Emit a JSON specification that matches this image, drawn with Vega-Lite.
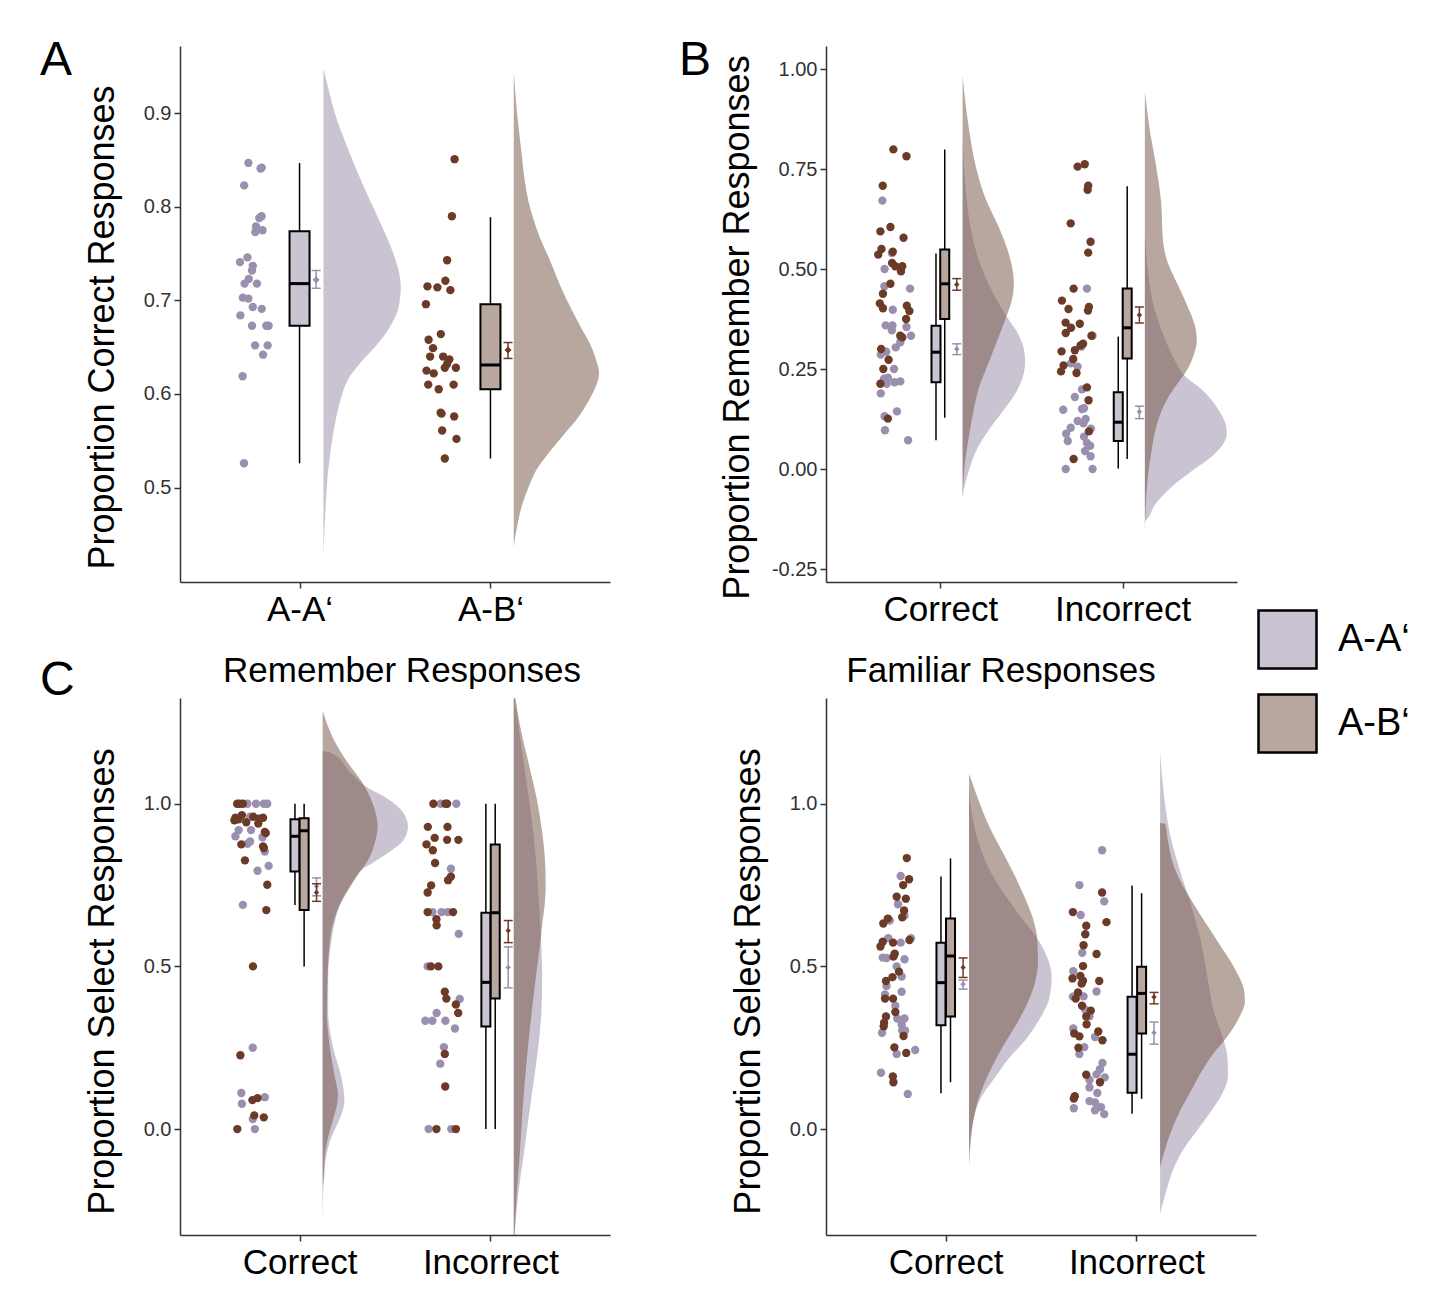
{
  "$schema": "https://vega.github.io/schema/vega-lite/v6.json",
  "background": "white",
  "padding": {"left": 40, "top": 37, "right": 0, "bottom": 0},
  "title": {"text": "C", "anchor": "start", "frame": "group", "fontSize": 48, "dx": -140, "dy": 668, "offset": 0},
  "columns": 2,
  "spacing": {"row": 116, "column": 216},
  "bounds": "flush",
  "datasets": {
    "A_pts": [
      {"g":"A-A‘","x":0.732,"v":0.847},{"g":"A-A‘","x":0.796,"v":0.841},{"g":"A-A‘","x":0.802,"v":0.842},{"g":"A-A‘","x":0.710,"v":0.823},
      {"g":"A-A‘","x":0.801,"v":0.790},{"g":"A-A‘","x":0.789,"v":0.788},{"g":"A-A‘","x":0.772,"v":0.779},{"g":"A-A‘","x":0.806,"v":0.775},
      {"g":"A-A‘","x":0.768,"v":0.773},{"g":"A-A‘","x":0.727,"v":0.746},{"g":"A-A‘","x":0.688,"v":0.741},{"g":"A-A‘","x":0.755,"v":0.737},
      {"g":"A-A‘","x":0.751,"v":0.732},{"g":"A-A‘","x":0.734,"v":0.723},{"g":"A-A‘","x":0.712,"v":0.718},{"g":"A-A‘","x":0.777,"v":0.718},
      {"g":"A-A‘","x":0.703,"v":0.703},{"g":"A-A‘","x":0.732,"v":0.702},{"g":"A-A‘","x":0.755,"v":0.693},{"g":"A-A‘","x":0.802,"v":0.691},
      {"g":"A-A‘","x":0.690,"v":0.684},{"g":"A-A‘","x":0.751,"v":0.673},{"g":"A-A‘","x":0.826,"v":0.673},{"g":"A-A‘","x":0.838,"v":0.673},
      {"g":"A-A‘","x":0.767,"v":0.652},{"g":"A-A‘","x":0.833,"v":0.652},{"g":"A-A‘","x":0.809,"v":0.642},{"g":"A-A‘","x":0.702,"v":0.619},
      {"g":"A-A‘","x":0.709,"v":0.526},
      {"g":"A-B‘","x":1.812,"v":0.851},{"g":"A-B‘","x":1.798,"v":0.790},{"g":"A-B‘","x":1.773,"v":0.743},{"g":"A-B‘","x":1.670,"v":0.715},
      {"g":"A-B‘","x":1.722,"v":0.714},{"g":"A-B‘","x":1.764,"v":0.721},{"g":"A-B‘","x":1.790,"v":0.711},{"g":"A-B‘","x":1.662,"v":0.696},
      {"g":"A-B‘","x":1.740,"v":0.664},{"g":"A-B‘","x":1.676,"v":0.658},{"g":"A-B‘","x":1.699,"v":0.649},{"g":"A-B‘","x":1.684,"v":0.640},
      {"g":"A-B‘","x":1.752,"v":0.640},{"g":"A-B‘","x":1.785,"v":0.637},{"g":"A-B‘","x":1.773,"v":0.632},{"g":"A-B‘","x":1.819,"v":0.628},
      {"g":"A-B‘","x":1.761,"v":0.628},{"g":"A-B‘","x":1.665,"v":0.625},{"g":"A-B‘","x":1.703,"v":0.622},{"g":"A-B‘","x":1.674,"v":0.610},
      {"g":"A-B‘","x":1.729,"v":0.605},{"g":"A-B‘","x":1.807,"v":0.610},{"g":"A-B‘","x":1.739,"v":0.580},{"g":"A-B‘","x":1.744,"v":0.579},
      {"g":"A-B‘","x":1.810,"v":0.576},{"g":"A-B‘","x":1.747,"v":0.561},{"g":"A-B‘","x":1.822,"v":0.552},{"g":"A-B‘","x":1.761,"v":0.531}
    ],
    "A_box": [
      {"g":"A-A‘","x":1.0,"lo":0.526,"q1":0.673,"med":0.718,"q3":0.774,"hi":0.847},
      {"g":"A-B‘","x":2.0,"lo":0.531,"q1":0.605,"med":0.631,"q3":0.696,"hi":0.789}
    ],
    "A_mean": [
      {"g":"A-A‘","x":1.087,"m":0.722,"lo":0.713,"hi":0.732},
      {"g":"A-B‘","x":2.092,"m":0.647,"lo":0.638,"hi":0.655}
    ],
    "A_dens": [
      {"g":"A-A‘","x0":1.125,"v":0.948,"x":1.125},{"g":"A-A‘","x0":1.125,"v":0.920,"x":1.159},{"g":"A-A‘","x0":1.125,"v":0.901,"x":1.184},
      {"g":"A-A‘","x0":1.125,"v":0.863,"x":1.252},{"g":"A-A‘","x0":1.125,"v":0.825,"x":1.329},{"g":"A-A‘","x0":1.125,"v":0.787,"x":1.414},
      {"g":"A-A‘","x0":1.125,"v":0.748,"x":1.495},{"g":"A-A‘","x0":1.125,"v":0.729,"x":1.522},{"g":"A-A‘","x0":1.125,"v":0.714,"x":1.530},
      {"g":"A-A‘","x0":1.125,"v":0.691,"x":1.517},{"g":"A-A‘","x0":1.125,"v":0.672,"x":1.474},{"g":"A-A‘","x0":1.125,"v":0.653,"x":1.406},
      {"g":"A-A‘","x0":1.125,"v":0.634,"x":1.321},{"g":"A-A‘","x0":1.125,"v":0.615,"x":1.252},{"g":"A-A‘","x0":1.125,"v":0.596,"x":1.218},
      {"g":"A-A‘","x0":1.125,"v":0.576,"x":1.193},{"g":"A-A‘","x0":1.125,"v":0.557,"x":1.176},{"g":"A-A‘","x0":1.125,"v":0.519,"x":1.150},
      {"g":"A-A‘","x0":1.125,"v":0.481,"x":1.137},{"g":"A-A‘","x0":1.125,"v":0.426,"x":1.125},
      {"g":"A-B‘","x0":2.122,"v":0.944,"x":2.122},{"g":"A-B‘","x0":2.122,"v":0.901,"x":2.139},{"g":"A-B‘","x0":2.122,"v":0.863,"x":2.160},
      {"g":"A-B‘","x0":2.122,"v":0.825,"x":2.182},{"g":"A-B‘","x0":2.122,"v":0.806,"x":2.199},{"g":"A-B‘","x0":2.122,"v":0.787,"x":2.225},
      {"g":"A-B‘","x0":2.122,"v":0.767,"x":2.259},{"g":"A-B‘","x0":2.122,"v":0.748,"x":2.301},{"g":"A-B‘","x0":2.122,"v":0.710,"x":2.378},
      {"g":"A-B‘","x0":2.122,"v":0.672,"x":2.472},{"g":"A-B‘","x0":2.122,"v":0.653,"x":2.523},{"g":"A-B‘","x0":2.122,"v":0.634,"x":2.557},
      {"g":"A-B‘","x0":2.122,"v":0.622,"x":2.569},{"g":"A-B‘","x0":2.122,"v":0.611,"x":2.557},{"g":"A-B‘","x0":2.122,"v":0.596,"x":2.523},
      {"g":"A-B‘","x0":2.122,"v":0.576,"x":2.463},{"g":"A-B‘","x0":2.122,"v":0.557,"x":2.386},{"g":"A-B‘","x0":2.122,"v":0.538,"x":2.309},
      {"g":"A-B‘","x0":2.122,"v":0.519,"x":2.241},{"g":"A-B‘","x0":2.122,"v":0.500,"x":2.199},{"g":"A-B‘","x0":2.122,"v":0.481,"x":2.165},
      {"g":"A-B‘","x0":2.122,"v":0.462,"x":2.143},{"g":"A-B‘","x0":2.122,"v":0.437,"x":2.122}
    ],
    "B_pts": [
      {"g":"A-B‘","x":0.742,"v":0.799},{"g":"A-B‘","x":0.814,"v":0.782},{"g":"A-B‘","x":0.684,"v":0.708},{"g":"A-B‘","x":0.726,"v":0.605},
      {"g":"A-B‘","x":0.671,"v":0.594},{"g":"A-B‘","x":0.798,"v":0.578},{"g":"A-B‘","x":0.677,"v":0.550},{"g":"A-B‘","x":0.659,"v":0.536},
      {"g":"A-B‘","x":0.739,"v":0.543},{"g":"A-B‘","x":0.735,"v":0.515},{"g":"A-B‘","x":0.753,"v":0.507},{"g":"A-B‘","x":0.791,"v":0.507},
      {"g":"A-B‘","x":0.784,"v":0.494},{"g":"A-B‘","x":0.726,"v":0.463},{"g":"A-B‘","x":0.685,"v":0.438},{"g":"A-B‘","x":0.668,"v":0.414},
      {"g":"A-B‘","x":0.685,"v":0.402},{"g":"A-B‘","x":0.816,"v":0.408},{"g":"A-B‘","x":0.830,"v":0.395},{"g":"A-B‘","x":0.812,"v":0.375},
      {"g":"A-B‘","x":0.780,"v":0.333},{"g":"A-B‘","x":0.791,"v":0.329},{"g":"A-B‘","x":0.675,"v":0.300},{"g":"A-B‘","x":0.716,"v":0.273},
      {"g":"A-B‘","x":0.687,"v":0.250},{"g":"A-B‘","x":0.671,"v":0.213},{"g":"A-B‘","x":0.712,"v":0.126},
      {"g":"A-A‘","x":0.682,"v":0.671},{"g":"A-A‘","x":0.734,"v":0.540},{"g":"A-A‘","x":0.694,"v":0.500},{"g":"A-A‘","x":0.693,"v":0.457},
      {"g":"A-A‘","x":0.834,"v":0.451},{"g":"A-A‘","x":0.739,"v":0.398},{"g":"A-A‘","x":0.700,"v":0.359},{"g":"A-A‘","x":0.737,"v":0.359},
      {"g":"A-A‘","x":0.734,"v":0.347},{"g":"A-A‘","x":0.814,"v":0.355},{"g":"A-A‘","x":0.839,"v":0.333},{"g":"A-A‘","x":0.780,"v":0.317},
      {"g":"A-A‘","x":0.755,"v":0.304},{"g":"A-A‘","x":0.703,"v":0.293},{"g":"A-A‘","x":0.673,"v":0.286},{"g":"A-A‘","x":0.746,"v":0.250},
      {"g":"A-A‘","x":0.691,"v":0.226},{"g":"A-A‘","x":0.712,"v":0.228},{"g":"A-A‘","x":0.748,"v":0.217},{"g":"A-A‘","x":0.780,"v":0.219},
      {"g":"A-A‘","x":0.705,"v":0.213},{"g":"A-A‘","x":0.673,"v":0.189},{"g":"A-A‘","x":0.762,"v":0.144},{"g":"A-A‘","x":0.694,"v":0.132},
      {"g":"A-A‘","x":0.696,"v":0.097},{"g":"A-A‘","x":0.823,"v":0.072},
      {"g":"A-B‘","x":1.753,"v":0.756},{"g":"A-B‘","x":1.792,"v":0.762},{"g":"A-B‘","x":1.811,"v":0.708},{"g":"A-B‘","x":1.808,"v":0.698},
      {"g":"A-B‘","x":1.715,"v":0.614},{"g":"A-B‘","x":1.824,"v":0.568},{"g":"A-B‘","x":1.811,"v":0.541},{"g":"A-B‘","x":1.731,"v":0.451},
      {"g":"A-B‘","x":1.667,"v":0.421},{"g":"A-B‘","x":1.703,"v":0.400},{"g":"A-B‘","x":1.815,"v":0.405},{"g":"A-B‘","x":1.810,"v":0.396},
      {"g":"A-B‘","x":1.687,"v":0.366},{"g":"A-B‘","x":1.717,"v":0.353},{"g":"A-B‘","x":1.765,"v":0.363},{"g":"A-B‘","x":1.688,"v":0.340},
      {"g":"A-B‘","x":1.829,"v":0.333},{"g":"A-B‘","x":1.783,"v":0.313},{"g":"A-B‘","x":1.769,"v":0.309},{"g":"A-B‘","x":1.738,"v":0.297},
      {"g":"A-B‘","x":1.665,"v":0.294},{"g":"A-B‘","x":1.729,"v":0.275},{"g":"A-B‘","x":1.676,"v":0.259},{"g":"A-B‘","x":1.662,"v":0.244},
      {"g":"A-B‘","x":1.747,"v":0.240},{"g":"A-B‘","x":1.804,"v":0.204},{"g":"A-B‘","x":1.813,"v":0.172},{"g":"A-B‘","x":1.815,"v":0.094},
      {"g":"A-B‘","x":1.731,"v":0.025},
      {"g":"A-A‘","x":1.804,"v":0.451},{"g":"A-A‘","x":1.835,"v":0.333},{"g":"A-A‘","x":1.774,"v":0.306},{"g":"A-A‘","x":1.717,"v":0.264},
      {"g":"A-A‘","x":1.753,"v":0.256},{"g":"A-A‘","x":1.777,"v":0.199},{"g":"A-A‘","x":1.738,"v":0.180},{"g":"A-A‘","x":1.788,"v":0.152},
      {"g":"A-A‘","x":1.674,"v":0.148},{"g":"A-A‘","x":1.777,"v":0.150},{"g":"A-A‘","x":1.797,"v":0.125},{"g":"A-A‘","x":1.753,"v":0.120},
      {"g":"A-A‘","x":1.715,"v":0.103},{"g":"A-A‘","x":1.785,"v":0.114},{"g":"A-A‘","x":1.826,"v":0.101},{"g":"A-A‘","x":1.690,"v":0.088},
      {"g":"A-A‘","x":1.699,"v":0.070},{"g":"A-A‘","x":1.788,"v":0.081},{"g":"A-A‘","x":1.804,"v":0.065},{"g":"A-A‘","x":1.822,"v":0.058},
      {"g":"A-A‘","x":1.794,"v":0.045},{"g":"A-A‘","x":1.824,"v":0.032},{"g":"A-A‘","x":1.688,"v":0.000},{"g":"A-A‘","x":1.835,"v":0.000}
    ],
    "B_box": [
      {"g":"A-A‘","x":0.976,"lo":0.072,"q1":0.217,"med":0.292,"q3":0.358,"hi":0.539},
      {"g":"A-B‘","x":1.024,"lo":0.128,"q1":0.375,"med":0.463,"q3":0.549,"hi":0.799},
      {"g":"A-A‘","x":1.976,"lo":0.001,"q1":0.070,"med":0.117,"q3":0.192,"hi":0.331},
      {"g":"A-B‘","x":2.025,"lo":0.025,"q1":0.276,"med":0.353,"q3":0.451,"hi":0.707}
    ],
    "B_mean": [
      {"g":"A-A‘","x":1.090,"m":0.300,"lo":0.286,"hi":0.313},
      {"g":"A-B‘","x":1.090,"m":0.461,"lo":0.447,"hi":0.476},
      {"g":"A-A‘","x":2.092,"m":0.143,"lo":0.126,"hi":0.157},
      {"g":"A-B‘","x":2.092,"m":0.385,"lo":0.365,"hi":0.405}
    ],
    "B_dens": [
      {"g":"A-B‘","c":1,"x0":1.122,"v":0.981,"x":1.122},{"g":"A-B‘","c":1,"x0":1.122,"v":0.847,"x":1.158},{"g":"A-B‘","c":1,"x0":1.122,"v":0.757,"x":1.194},
      {"g":"A-B‘","c":1,"x0":1.122,"v":0.677,"x":1.247},{"g":"A-B‘","c":1,"x0":1.122,"v":0.606,"x":1.319},{"g":"A-B‘","c":1,"x0":1.122,"v":0.543,"x":1.372},
      {"g":"A-B‘","c":1,"x0":1.122,"v":0.490,"x":1.399},{"g":"A-B‘","c":1,"x0":1.122,"v":0.463,"x":1.403},{"g":"A-B‘","c":1,"x0":1.122,"v":0.418,"x":1.390},
      {"g":"A-B‘","c":1,"x0":1.122,"v":0.382,"x":1.363},{"g":"A-B‘","c":1,"x0":1.122,"v":0.329,"x":1.319},{"g":"A-B‘","c":1,"x0":1.122,"v":0.266,"x":1.265},
      {"g":"A-B‘","c":1,"x0":1.122,"v":0.204,"x":1.212},{"g":"A-B‘","c":1,"x0":1.122,"v":0.132,"x":1.176},{"g":"A-B‘","c":1,"x0":1.122,"v":0.061,"x":1.149},
      {"g":"A-B‘","c":1,"x0":1.122,"v":-0.002,"x":1.131},{"g":"A-B‘","c":1,"x0":1.122,"v":-0.073,"x":1.122},
      {"g":"A-A‘","c":1,"x0":1.122,"v":0.820,"x":1.122},{"g":"A-A‘","c":1,"x0":1.122,"v":0.713,"x":1.137},{"g":"A-A‘","c":1,"x0":1.122,"v":0.624,"x":1.158},
      {"g":"A-A‘","c":1,"x0":1.122,"v":0.534,"x":1.203},{"g":"A-A‘","c":1,"x0":1.122,"v":0.445,"x":1.283},{"g":"A-A‘","c":1,"x0":1.122,"v":0.382,"x":1.363},
      {"g":"A-A‘","c":1,"x0":1.122,"v":0.338,"x":1.426},{"g":"A-A‘","c":1,"x0":1.122,"v":0.293,"x":1.461},{"g":"A-A‘","c":1,"x0":1.122,"v":0.266,"x":1.465},
      {"g":"A-A‘","c":1,"x0":1.122,"v":0.231,"x":1.453},{"g":"A-A‘","c":1,"x0":1.122,"v":0.186,"x":1.408},{"g":"A-A‘","c":1,"x0":1.122,"v":0.141,"x":1.337},
      {"g":"A-A‘","c":1,"x0":1.122,"v":0.097,"x":1.265},{"g":"A-A‘","c":1,"x0":1.122,"v":0.052,"x":1.203},{"g":"A-A‘","c":1,"x0":1.122,"v":-0.002,"x":1.158},
      {"g":"A-A‘","c":1,"x0":1.122,"v":-0.046,"x":1.131},{"g":"A-A‘","c":1,"x0":1.122,"v":-0.073,"x":1.122},
      {"g":"A-B‘","c":2,"x0":2.122,"v":0.942,"x":2.122},{"g":"A-B‘","c":2,"x0":2.122,"v":0.847,"x":2.149},{"g":"A-B‘","c":2,"x0":2.122,"v":0.757,"x":2.184},
      {"g":"A-B‘","c":2,"x0":2.122,"v":0.668,"x":2.211},{"g":"A-B‘","c":2,"x0":2.122,"v":0.579,"x":2.220},{"g":"A-B‘","c":2,"x0":2.122,"v":0.516,"x":2.247},
      {"g":"A-B‘","c":2,"x0":2.122,"v":0.463,"x":2.300},{"g":"A-B‘","c":2,"x0":2.122,"v":0.409,"x":2.354},{"g":"A-B‘","c":2,"x0":2.122,"v":0.356,"x":2.398},
      {"g":"A-B‘","c":2,"x0":2.122,"v":0.320,"x":2.407},{"g":"A-B‘","c":2,"x0":2.122,"v":0.284,"x":2.389},{"g":"A-B‘","c":2,"x0":2.122,"v":0.248,"x":2.354},
      {"g":"A-B‘","c":2,"x0":2.122,"v":0.213,"x":2.300},{"g":"A-B‘","c":2,"x0":2.122,"v":0.177,"x":2.247},{"g":"A-B‘","c":2,"x0":2.122,"v":0.132,"x":2.202},
      {"g":"A-B‘","c":2,"x0":2.122,"v":0.088,"x":2.175},{"g":"A-B‘","c":2,"x0":2.122,"v":0.043,"x":2.158},{"g":"A-B‘","c":2,"x0":2.122,"v":-0.002,"x":2.143},
      {"g":"A-B‘","c":2,"x0":2.122,"v":-0.091,"x":2.127},{"g":"A-B‘","c":2,"x0":2.122,"v":-0.158,"x":2.122},
      {"g":"A-A‘","c":2,"x0":2.122,"v":0.583,"x":2.122},{"g":"A-A‘","c":2,"x0":2.122,"v":0.490,"x":2.140},{"g":"A-A‘","c":2,"x0":2.122,"v":0.400,"x":2.175},
      {"g":"A-A‘","c":2,"x0":2.122,"v":0.329,"x":2.229},{"g":"A-A‘","c":2,"x0":2.122,"v":0.275,"x":2.282},{"g":"A-A‘","c":2,"x0":2.122,"v":0.235,"x":2.336},
      {"g":"A-A‘","c":2,"x0":2.122,"v":0.195,"x":2.443},{"g":"A-A‘","c":2,"x0":2.122,"v":0.150,"x":2.523},{"g":"A-A‘","c":2,"x0":2.122,"v":0.106,"x":2.568},
      {"g":"A-A‘","c":2,"x0":2.122,"v":0.088,"x":2.571},{"g":"A-A‘","c":2,"x0":2.122,"v":0.061,"x":2.550},{"g":"A-A‘","c":2,"x0":2.122,"v":0.034,"x":2.496},
      {"g":"A-A‘","c":2,"x0":2.122,"v":-0.002,"x":2.389},{"g":"A-A‘","c":2,"x0":2.122,"v":-0.046,"x":2.265},{"g":"A-A‘","c":2,"x0":2.122,"v":-0.091,"x":2.175},
      {"g":"A-A‘","c":2,"x0":2.122,"v":-0.127,"x":2.131},{"g":"A-A‘","c":2,"x0":2.122,"v":-0.131,"x":2.122}
    ],
    "CL_pts": [
      {"g":"A-B‘","x":0.673,"v":1.000},{"g":"A-B‘","x":0.703,"v":1.000},{"g":"A-B‘","x":0.686,"v":1.000},{"g":"A-B‘","x":0.664,"v":0.957},
      {"g":"A-B‘","x":0.659,"v":0.949},{"g":"A-B‘","x":0.681,"v":0.952},{"g":"A-B‘","x":0.698,"v":0.965},{"g":"A-B‘","x":0.721,"v":0.943},
      {"g":"A-B‘","x":0.758,"v":0.960},{"g":"A-B‘","x":0.784,"v":0.939},{"g":"A-B‘","x":0.809,"v":0.957},{"g":"A-B‘","x":0.789,"v":0.954},
      {"g":"A-B‘","x":0.818,"v":0.913},{"g":"A-B‘","x":0.823,"v":0.910},{"g":"A-B‘","x":0.695,"v":0.875},{"g":"A-B‘","x":0.809,"v":0.869},
      {"g":"A-B‘","x":0.813,"v":0.864},{"g":"A-B‘","x":0.714,"v":0.826},{"g":"A-B‘","x":0.831,"v":0.751},{"g":"A-B‘","x":0.826,"v":0.673},
      {"g":"A-B‘","x":0.756,"v":0.500},{"g":"A-B‘","x":0.690,"v":0.227},{"g":"A-B‘","x":0.753,"v":0.089},{"g":"A-B‘","x":0.780,"v":0.095},
      {"g":"A-B‘","x":0.763,"v":0.042},{"g":"A-B‘","x":0.813,"v":0.036},{"g":"A-B‘","x":0.674,"v":0.000},
      {"g":"A-A‘","x":0.727,"v":1.000},{"g":"A-A‘","x":0.772,"v":1.000},{"g":"A-A‘","x":0.813,"v":1.000},{"g":"A-A‘","x":0.831,"v":1.000},
      {"g":"A-A‘","x":0.741,"v":0.960},{"g":"A-A‘","x":0.681,"v":0.919},{"g":"A-A‘","x":0.664,"v":0.900},{"g":"A-A‘","x":0.746,"v":0.919},
      {"g":"A-A‘","x":0.727,"v":0.877},{"g":"A-A‘","x":0.741,"v":0.884},{"g":"A-A‘","x":0.806,"v":0.897},{"g":"A-A‘","x":0.818,"v":0.853},
      {"g":"A-A‘","x":0.780,"v":0.794},{"g":"A-A‘","x":0.838,"v":0.809},{"g":"A-A‘","x":0.703,"v":0.689},{"g":"A-A‘","x":0.755,"v":0.250},
      {"g":"A-A‘","x":0.695,"v":0.111},{"g":"A-A‘","x":0.698,"v":0.078},{"g":"A-A‘","x":0.818,"v":0.098},{"g":"A-A‘","x":0.755,"v":0.031},
      {"g":"A-A‘","x":0.766,"v":0.000},
      {"g":"A-B‘","x":1.701,"v":1.000},{"g":"A-B‘","x":1.764,"v":1.000},{"g":"A-B‘","x":1.773,"v":1.000},{"g":"A-B‘","x":1.672,"v":0.929},
      {"g":"A-B‘","x":1.775,"v":0.929},{"g":"A-B‘","x":1.708,"v":0.895},{"g":"A-B‘","x":1.773,"v":0.889},{"g":"A-B‘","x":1.832,"v":0.889},
      {"g":"A-B‘","x":1.665,"v":0.875},{"g":"A-B‘","x":1.698,"v":0.857},{"g":"A-B‘","x":1.710,"v":0.818},{"g":"A-B‘","x":1.778,"v":0.765},
      {"g":"A-B‘","x":1.793,"v":0.776},{"g":"A-B‘","x":1.689,"v":0.749},{"g":"A-B‘","x":1.671,"v":0.727},{"g":"A-B‘","x":1.671,"v":0.667},
      {"g":"A-B‘","x":1.717,"v":0.645},{"g":"A-B‘","x":1.718,"v":0.626},{"g":"A-B‘","x":1.804,"v":0.667},{"g":"A-B‘","x":1.688,"v":0.500},
      {"g":"A-B‘","x":1.727,"v":0.500},{"g":"A-B‘","x":1.761,"v":0.422},{"g":"A-B‘","x":1.769,"v":0.401},{"g":"A-B‘","x":1.819,"v":0.383},
      {"g":"A-B‘","x":1.831,"v":0.357},{"g":"A-B‘","x":1.761,"v":0.231},{"g":"A-B‘","x":1.763,"v":0.131},{"g":"A-B‘","x":1.717,"v":0.000},
      {"g":"A-B‘","x":1.819,"v":0.000},
      {"g":"A-A‘","x":1.739,"v":1.000},{"g":"A-A‘","x":1.821,"v":1.000},{"g":"A-A‘","x":1.793,"v":0.800},{"g":"A-A‘","x":1.696,"v":0.667},
      {"g":"A-A‘","x":1.744,"v":0.667},{"g":"A-A‘","x":1.776,"v":0.667},{"g":"A-A‘","x":1.834,"v":0.600},{"g":"A-A‘","x":1.671,"v":0.500},
      {"g":"A-A‘","x":1.839,"v":0.400},{"g":"A-A‘","x":1.718,"v":0.357},{"g":"A-A‘","x":1.659,"v":0.333},{"g":"A-A‘","x":1.696,"v":0.333},
      {"g":"A-A‘","x":1.764,"v":0.333},{"g":"A-A‘","x":1.814,"v":0.309},{"g":"A-A‘","x":1.756,"v":0.252},{"g":"A-A‘","x":1.737,"v":0.201},
      {"g":"A-A‘","x":1.676,"v":0.000},{"g":"A-A‘","x":1.795,"v":0.000}
    ],
    "CL_box": [
      {"g":"A-A‘","x":0.976,"lo":0.689,"q1":0.792,"med":0.900,"q3":0.952,"hi":1.0},
      {"g":"A-B‘","x":1.024,"lo":0.500,"q1":0.673,"med":0.917,"q3":0.955,"hi":1.0},
      {"g":"A-A‘","x":1.976,"lo":0.0,"q1":0.315,"med":0.451,"q3":0.665,"hi":1.0},
      {"g":"A-B‘","x":2.025,"lo":0.0,"q1":0.401,"med":0.665,"q3":0.875,"hi":1.0}
    ],
    "CL_mean": [
      {"g":"A-A‘","x":1.089,"m":0.746,"lo":0.717,"hi":0.772},
      {"g":"A-B‘","x":1.089,"m":0.727,"lo":0.700,"hi":0.754},
      {"g":"A-A‘","x":2.093,"m":0.497,"lo":0.434,"hi":0.560},
      {"g":"A-B‘","x":2.093,"m":0.610,"lo":0.573,"hi":0.641}
    ],
    "CL_dens": [
      {"g":"A-B‘","x0":1.121,"v":1.286,"x":1.121},{"g":"A-B‘","x0":1.121,"v":1.237,"x":1.150},{"g":"A-B‘","x0":1.121,"v":1.182,"x":1.193},
      {"g":"A-B‘","x0":1.121,"v":1.127,"x":1.252},{"g":"A-B‘","x0":1.121,"v":1.072,"x":1.321},{"g":"A-B‘","x0":1.121,"v":1.017,"x":1.372},
      {"g":"A-B‘","x0":1.121,"v":0.963,"x":1.402},{"g":"A-B‘","x0":1.121,"v":0.930,"x":1.409},{"g":"A-B‘","x0":1.121,"v":0.886,"x":1.397},
      {"g":"A-B‘","x0":1.121,"v":0.831,"x":1.363},{"g":"A-B‘","x0":1.121,"v":0.787,"x":1.312},{"g":"A-B‘","x0":1.121,"v":0.732,"x":1.252},
      {"g":"A-B‘","x0":1.121,"v":0.688,"x":1.210},{"g":"A-B‘","x0":1.121,"v":0.634,"x":1.176},{"g":"A-B‘","x0":1.121,"v":0.579,"x":1.159},
      {"g":"A-B‘","x0":1.121,"v":0.469,"x":1.147},{"g":"A-B‘","x0":1.121,"v":0.360,"x":1.143},{"g":"A-B‘","x0":1.121,"v":0.250,"x":1.159},
      {"g":"A-B‘","x0":1.121,"v":0.162,"x":1.184},{"g":"A-B‘","x0":1.121,"v":0.107,"x":1.201},{"g":"A-B‘","x0":1.121,"v":0.075,"x":1.196},
      {"g":"A-B‘","x0":1.121,"v":0.031,"x":1.176},{"g":"A-B‘","x0":1.121,"v":-0.024,"x":1.150},{"g":"A-B‘","x0":1.121,"v":-0.079,"x":1.133},
      {"g":"A-B‘","x0":1.121,"v":-0.188,"x":1.124},{"g":"A-B‘","x0":1.121,"v":-0.287,"x":1.121},
      {"g":"A-A‘","x0":1.121,"v":1.162,"x":1.121},{"g":"A-A‘","x0":1.121,"v":1.158,"x":1.159},{"g":"A-A‘","x0":1.121,"v":1.094,"x":1.270},
      {"g":"A-A‘","x0":1.121,"v":1.050,"x":1.355},{"g":"A-A‘","x0":1.121,"v":1.017,"x":1.457},{"g":"A-A‘","x0":1.121,"v":0.974,"x":1.542},
      {"g":"A-A‘","x0":1.121,"v":0.930,"x":1.568},{"g":"A-A‘","x0":1.121,"v":0.886,"x":1.542},{"g":"A-A‘","x0":1.121,"v":0.853,"x":1.474},
      {"g":"A-A‘","x0":1.121,"v":0.820,"x":1.389},{"g":"A-A‘","x0":1.121,"v":0.798,"x":1.329},{"g":"A-A‘","x0":1.121,"v":0.754,"x":1.270},
      {"g":"A-A‘","x0":1.121,"v":0.688,"x":1.210},{"g":"A-A‘","x0":1.121,"v":0.634,"x":1.184},{"g":"A-A‘","x0":1.121,"v":0.579,"x":1.167},
      {"g":"A-A‘","x0":1.121,"v":0.469,"x":1.150},{"g":"A-A‘","x0":1.121,"v":0.360,"x":1.150},{"g":"A-A‘","x0":1.121,"v":0.250,"x":1.176},
      {"g":"A-A‘","x0":1.121,"v":0.162,"x":1.218},{"g":"A-A‘","x0":1.121,"v":0.086,"x":1.235},{"g":"A-A‘","x0":1.121,"v":0.031,"x":1.210},
      {"g":"A-A‘","x0":1.121,"v":-0.024,"x":1.167},{"g":"A-A‘","x0":1.121,"v":-0.079,"x":1.141},{"g":"A-A‘","x0":1.121,"v":-0.167,"x":1.124},
      {"g":"A-A‘","x0":1.121,"v":-0.172,"x":1.121},
      {"g":"A-B‘","x0":2.122,"v":1.324,"x":2.131},{"g":"A-B‘","x0":2.122,"v":1.237,"x":2.156},{"g":"A-B‘","x0":2.122,"v":1.127,"x":2.199},
      {"g":"A-B‘","x0":2.122,"v":1.017,"x":2.242},{"g":"A-B‘","x0":2.122,"v":0.908,"x":2.272},{"g":"A-B‘","x0":2.122,"v":0.798,"x":2.288},
      {"g":"A-B‘","x0":2.122,"v":0.743,"x":2.289},{"g":"A-B‘","x0":2.122,"v":0.689,"x":2.284},{"g":"A-B‘","x0":2.122,"v":0.634,"x":2.272},
      {"g":"A-B‘","x0":2.122,"v":0.579,"x":2.262},{"g":"A-B‘","x0":2.122,"v":0.524,"x":2.250},{"g":"A-B‘","x0":2.122,"v":0.469,"x":2.238},
      {"g":"A-B‘","x0":2.122,"v":0.360,"x":2.216},{"g":"A-B‘","x0":2.122,"v":0.250,"x":2.196},{"g":"A-B‘","x0":2.122,"v":0.140,"x":2.179},
      {"g":"A-B‘","x0":2.122,"v":0.031,"x":2.165},{"g":"A-B‘","x0":2.122,"v":-0.079,"x":2.153},{"g":"A-B‘","x0":2.122,"v":-0.188,"x":2.139},
      {"g":"A-B‘","x0":2.122,"v":-0.326,"x":2.126},
      {"g":"A-A‘","x0":2.122,"v":1.324,"x":2.126},{"g":"A-A‘","x0":2.122,"v":1.127,"x":2.174},{"g":"A-A‘","x0":2.122,"v":0.908,"x":2.225},
      {"g":"A-A‘","x0":2.122,"v":0.689,"x":2.255},{"g":"A-A‘","x0":2.122,"v":0.557,"x":2.267},{"g":"A-A‘","x0":2.122,"v":0.469,"x":2.271},
      {"g":"A-A‘","x0":2.122,"v":0.360,"x":2.267},{"g":"A-A‘","x0":2.122,"v":0.250,"x":2.250},{"g":"A-A‘","x0":2.122,"v":0.140,"x":2.225},
      {"g":"A-A‘","x0":2.122,"v":0.031,"x":2.199},{"g":"A-A‘","x0":2.122,"v":-0.079,"x":2.174},{"g":"A-A‘","x0":2.122,"v":-0.188,"x":2.148},
      {"g":"A-A‘","x0":2.122,"v":-0.326,"x":2.126}
    ],
    "CR_pts": [
      {"g":"A-B‘","x":0.797,"v":0.833},{"g":"A-B‘","x":0.809,"v":0.768},{"g":"A-B‘","x":0.778,"v":0.750},{"g":"A-B‘","x":0.744,"v":0.714},
      {"g":"A-B‘","x":0.792,"v":0.708},{"g":"A-B‘","x":0.783,"v":0.672},{"g":"A-B‘","x":0.773,"v":0.651},{"g":"A-B‘","x":0.698,"v":0.647},
      {"g":"A-B‘","x":0.674,"v":0.632},{"g":"A-B‘","x":0.811,"v":0.581},{"g":"A-B‘","x":0.671,"v":0.576},{"g":"A-B‘","x":0.659,"v":0.561},
      {"g":"A-B‘","x":0.725,"v":0.573},{"g":"A-B‘","x":0.734,"v":0.539},{"g":"A-B‘","x":0.727,"v":0.530},{"g":"A-B‘","x":0.756,"v":0.484},
      {"g":"A-B‘","x":0.722,"v":0.467},{"g":"A-B‘","x":0.688,"v":0.455},{"g":"A-B‘","x":0.683,"v":0.401},{"g":"A-B‘","x":0.725,"v":0.401},
      {"g":"A-B‘","x":0.737,"v":0.360},{"g":"A-B‘","x":0.688,"v":0.346},{"g":"A-B‘","x":0.678,"v":0.327},{"g":"A-B‘","x":0.676,"v":0.316},
      {"g":"A-B‘","x":0.780,"v":0.286},{"g":"A-B‘","x":0.732,"v":0.251},{"g":"A-B‘","x":0.794,"v":0.234},{"g":"A-B‘","x":0.724,"v":0.162},
      {"g":"A-B‘","x":0.727,"v":0.144},
      {"g":"A-A‘","x":0.765,"v":0.778},{"g":"A-A‘","x":0.751,"v":0.691},{"g":"A-A‘","x":0.785,"v":0.656},{"g":"A-A‘","x":0.708,"v":0.641},
      {"g":"A-A‘","x":0.700,"v":0.587},{"g":"A-A‘","x":0.819,"v":0.587},{"g":"A-A‘","x":0.765,"v":0.573},{"g":"A-A‘","x":0.671,"v":0.527},
      {"g":"A-A‘","x":0.691,"v":0.526},{"g":"A-A‘","x":0.785,"v":0.522},{"g":"A-A‘","x":0.744,"v":0.500},{"g":"A-A‘","x":0.770,"v":0.469},
      {"g":"A-A‘","x":0.691,"v":0.440},{"g":"A-A‘","x":0.770,"v":0.422},{"g":"A-A‘","x":0.683,"v":0.414},{"g":"A-A‘","x":0.737,"v":0.379},
      {"g":"A-A‘","x":0.747,"v":0.340},{"g":"A-A‘","x":0.785,"v":0.340},{"g":"A-A‘","x":0.770,"v":0.321},{"g":"A-A‘","x":0.773,"v":0.303},
      {"g":"A-A‘","x":0.788,"v":0.303},{"g":"A-A‘","x":0.667,"v":0.296},{"g":"A-A‘","x":0.744,"v":0.231},{"g":"A-A‘","x":0.841,"v":0.243},
      {"g":"A-A‘","x":0.662,"v":0.173},{"g":"A-A‘","x":0.802,"v":0.108},
      {"g":"A-A‘","x":1.820,"v":0.857},{"g":"A-A‘","x":1.701,"v":0.750},{"g":"A-A‘","x":1.831,"v":0.700},{"g":"A-A‘","x":1.708,"v":0.658},
      {"g":"A-A‘","x":1.716,"v":0.542},{"g":"A-A‘","x":1.669,"v":0.485},{"g":"A-A‘","x":1.791,"v":0.423},{"g":"A-A‘","x":1.667,"v":0.407},
      {"g":"A-A‘","x":1.723,"v":0.408},{"g":"A-A‘","x":1.732,"v":0.367},{"g":"A-A‘","x":1.754,"v":0.347},{"g":"A-A‘","x":1.669,"v":0.309},
      {"g":"A-A‘","x":1.783,"v":0.283},{"g":"A-A‘","x":1.727,"v":0.252},{"g":"A-A‘","x":1.701,"v":0.231},{"g":"A-A‘","x":1.822,"v":0.203},
      {"g":"A-A‘","x":1.754,"v":0.151},{"g":"A-A‘","x":1.791,"v":0.168},{"g":"A-A‘","x":1.834,"v":0.159},{"g":"A-A‘","x":1.809,"v":0.184},
      {"g":"A-A‘","x":1.754,"v":0.128},{"g":"A-A‘","x":1.795,"v":0.111},{"g":"A-A‘","x":1.754,"v":0.086},{"g":"A-A‘","x":1.783,"v":0.082},
      {"g":"A-A‘","x":1.814,"v":0.067},{"g":"A-A‘","x":1.672,"v":0.064},{"g":"A-A‘","x":1.783,"v":0.058},{"g":"A-A‘","x":1.831,"v":0.046},
      {"g":"A-B‘","x":1.820,"v":0.727},{"g":"A-B‘","x":1.667,"v":0.667},{"g":"A-B‘","x":1.843,"v":0.636},{"g":"A-B‘","x":1.737,"v":0.625},
      {"g":"A-B‘","x":1.732,"v":0.599},{"g":"A-B‘","x":1.723,"v":0.565},{"g":"A-B‘","x":1.791,"v":0.538},{"g":"A-B‘","x":1.720,"v":0.501},
      {"g":"A-B‘","x":1.706,"v":0.471},{"g":"A-B‘","x":1.665,"v":0.463},{"g":"A-B‘","x":1.720,"v":0.456},{"g":"A-B‘","x":1.805,"v":0.455},
      {"g":"A-B‘","x":1.713,"v":0.447},{"g":"A-B‘","x":1.694,"v":0.420},{"g":"A-B‘","x":1.682,"v":0.401},{"g":"A-B‘","x":1.715,"v":0.379},
      {"g":"A-B‘","x":1.761,"v":0.364},{"g":"A-B‘","x":1.737,"v":0.346},{"g":"A-B‘","x":1.739,"v":0.322},{"g":"A-B‘","x":1.674,"v":0.294},
      {"g":"A-B‘","x":1.701,"v":0.285},{"g":"A-B‘","x":1.800,"v":0.300},{"g":"A-B‘","x":1.822,"v":0.273},{"g":"A-B‘","x":1.696,"v":0.250},
      {"g":"A-B‘","x":1.737,"v":0.167},{"g":"A-B‘","x":1.809,"v":0.144},{"g":"A-B‘","x":1.677,"v":0.101},{"g":"A-B‘","x":1.672,"v":0.094}
    ],
    "CR_box": [
      {"g":"A-A‘","x":0.976,"lo":0.110,"q1":0.319,"med":0.450,"q3":0.573,"hi":0.776},
      {"g":"A-B‘","x":1.026,"lo":0.144,"q1":0.346,"med":0.532,"q3":0.647,"hi":0.832},
      {"g":"A-A‘","x":1.977,"lo":0.047,"q1":0.112,"med":0.230,"q3":0.407,"hi":0.749},
      {"g":"A-B‘","x":2.027,"lo":0.093,"q1":0.294,"med":0.417,"q3":0.499,"hi":0.725}
    ],
    "CR_mean": [
      {"g":"A-A‘","x":1.092,"m":0.445,"lo":0.430,"hi":0.458},
      {"g":"A-B‘","x":1.092,"m":0.497,"lo":0.466,"hi":0.526},
      {"g":"A-A‘","x":2.092,"m":0.296,"lo":0.261,"hi":0.329},
      {"g":"A-B‘","x":2.092,"m":0.406,"lo":0.385,"hi":0.420}
    ],
    "CR_dens": [
      {"g":"A-B‘","x0":1.123,"v":1.092,"x":1.123},{"g":"A-B‘","x0":1.123,"v":1.017,"x":1.169},{"g":"A-B‘","x0":1.123,"v":0.930,"x":1.229},
      {"g":"A-B‘","x0":1.123,"v":0.853,"x":1.297},{"g":"A-B‘","x0":1.123,"v":0.776,"x":1.365},{"g":"A-B‘","x0":1.123,"v":0.710,"x":1.416},
      {"g":"A-B‘","x0":1.123,"v":0.645,"x":1.459},{"g":"A-B‘","x0":1.123,"v":0.579,"x":1.481},{"g":"A-B‘","x0":1.123,"v":0.513,"x":1.484},
      {"g":"A-B‘","x0":1.123,"v":0.447,"x":1.467},{"g":"A-B‘","x0":1.123,"v":0.382,"x":1.425},{"g":"A-B‘","x0":1.123,"v":0.316,"x":1.365},
      {"g":"A-B‘","x0":1.123,"v":0.250,"x":1.297},{"g":"A-B‘","x0":1.123,"v":0.195,"x":1.246},{"g":"A-B‘","x0":1.123,"v":0.140,"x":1.203},
      {"g":"A-B‘","x0":1.123,"v":0.086,"x":1.169},{"g":"A-B‘","x0":1.123,"v":0.031,"x":1.147},{"g":"A-B‘","x0":1.123,"v":-0.046,"x":1.131},
      {"g":"A-B‘","x0":1.123,"v":-0.117,"x":1.123},
      {"g":"A-A‘","x0":1.123,"v":1.039,"x":1.123},{"g":"A-A‘","x0":1.123,"v":0.908,"x":1.160},{"g":"A-A‘","x0":1.123,"v":0.798,"x":1.229},
      {"g":"A-A‘","x0":1.123,"v":0.689,"x":1.348},{"g":"A-A‘","x0":1.123,"v":0.623,"x":1.433},{"g":"A-A‘","x0":1.123,"v":0.590,"x":1.476},
      {"g":"A-A‘","x0":1.123,"v":0.535,"x":1.527},{"g":"A-A‘","x0":1.123,"v":0.469,"x":1.556},{"g":"A-A‘","x0":1.123,"v":0.403,"x":1.544},
      {"g":"A-A‘","x0":1.123,"v":0.338,"x":1.493},{"g":"A-A‘","x0":1.123,"v":0.272,"x":1.416},{"g":"A-A‘","x0":1.123,"v":0.217,"x":1.331},
      {"g":"A-A‘","x0":1.123,"v":0.162,"x":1.263},{"g":"A-A‘","x0":1.123,"v":0.086,"x":1.177},{"g":"A-A‘","x0":1.123,"v":0.031,"x":1.147},
      {"g":"A-A‘","x0":1.123,"v":-0.024,"x":1.130},{"g":"A-A‘","x0":1.123,"v":-0.068,"x":1.123},
      {"g":"A-B‘","x0":2.124,"v":0.941,"x":2.124},{"g":"A-B‘","x0":2.124,"v":0.938,"x":2.150},{"g":"A-B‘","x0":2.124,"v":0.886,"x":2.165},
      {"g":"A-B‘","x0":2.124,"v":0.831,"x":2.184},{"g":"A-B‘","x0":2.124,"v":0.776,"x":2.218},{"g":"A-B‘","x0":2.124,"v":0.689,"x":2.303},
      {"g":"A-B‘","x0":2.124,"v":0.579,"x":2.423},{"g":"A-B‘","x0":2.124,"v":0.491,"x":2.517},{"g":"A-B‘","x0":2.124,"v":0.425,"x":2.564},
      {"g":"A-B‘","x0":2.124,"v":0.392,"x":2.568},{"g":"A-B‘","x0":2.124,"v":0.338,"x":2.534},{"g":"A-B‘","x0":2.124,"v":0.283,"x":2.474},
      {"g":"A-B‘","x0":2.124,"v":0.228,"x":2.397},{"g":"A-B‘","x0":2.124,"v":0.173,"x":2.337},{"g":"A-B‘","x0":2.124,"v":0.118,"x":2.286},
      {"g":"A-B‘","x0":2.124,"v":0.064,"x":2.235},{"g":"A-B‘","x0":2.124,"v":0.009,"x":2.192},{"g":"A-B‘","x0":2.124,"v":-0.046,"x":2.158},
      {"g":"A-B‘","x0":2.124,"v":-0.117,"x":2.124},
      {"g":"A-A‘","x0":2.124,"v":1.160,"x":2.124},{"g":"A-A‘","x0":2.124,"v":1.072,"x":2.136},{"g":"A-A‘","x0":2.124,"v":0.985,"x":2.153},
      {"g":"A-A‘","x0":2.124,"v":0.908,"x":2.175},{"g":"A-A‘","x0":2.124,"v":0.798,"x":2.226},{"g":"A-A‘","x0":2.124,"v":0.689,"x":2.286},
      {"g":"A-A‘","x0":2.124,"v":0.579,"x":2.337},{"g":"A-A‘","x0":2.124,"v":0.469,"x":2.371},{"g":"A-A‘","x0":2.124,"v":0.360,"x":2.406},
      {"g":"A-A‘","x0":2.124,"v":0.272,"x":2.457},{"g":"A-A‘","x0":2.124,"v":0.217,"x":2.477},{"g":"A-A‘","x0":2.124,"v":0.162,"x":2.479},
      {"g":"A-A‘","x0":2.124,"v":0.107,"x":2.448},{"g":"A-A‘","x0":2.124,"v":0.053,"x":2.389},{"g":"A-A‘","x0":2.124,"v":-0.002,"x":2.320},
      {"g":"A-A‘","x0":2.124,"v":-0.057,"x":2.252},{"g":"A-A‘","x0":2.124,"v":-0.112,"x":2.201},{"g":"A-A‘","x0":2.124,"v":-0.167,"x":2.167},
      {"g":"A-A‘","x0":2.124,"v":-0.222,"x":2.141},{"g":"A-A‘","x0":2.124,"v":-0.260,"x":2.124}
    ]
  },
  "concat": [
    {
      "width": 430, "height": 536,
      "title": {"text": "A", "anchor": "start", "frame": "group", "fontSize": 48, "dx": -140, "dy": 39, "offset": 0},
      "encoding": {
        "x": {"field": "x", "type": "quantitative", "title": null, "scale": {"domain": [0.4, 2.6], "nice": false, "zero": false}, "axis": {"values": [1, 2], "labelExpr": "datum.value == 1 ? 'A-A‘' : 'A-B‘'"}},
        "y": {"field": "v", "type": "quantitative", "title": "Proportion Correct Responses", "scale": {"domain": [0.399, 0.972], "nice": false, "zero": false}, "axis": {"values": [0.5, 0.6, 0.7, 0.8, 0.9], "format": ".1f", "titleY": 281}}
      },
      "layer": [
        {"data": {"name": "A_dens"}, "transform": [{"filter": "datum.g == 'A-A‘'"}], "mark": {"type": "area", "orient": "horizontal", "interpolate": "monotone", "color": "#958aa5", "opacity": 0.5, "clip": true}, "encoding": {"x2": {"field": "x0"}}},
        {"data": {"name": "A_dens"}, "transform": [{"filter": "datum.g == 'A-B‘'"}], "mark": {"type": "area", "orient": "horizontal", "interpolate": "monotone", "color": "#71503f", "opacity": 0.5, "clip": true}, "encoding": {"x2": {"field": "x0"}}},
        {"data": {"name": "A_box"}, "mark": {"type": "rule", "color": "black", "strokeWidth": 1.5}, "encoding": {"y": {"field": "lo", "type": "quantitative", "title": "Proportion Correct Responses"}, "y2": {"field": "hi"}}},
        {"data": {"name": "A_box"}, "mark": {"type": "bar", "size": 20, "stroke": "black", "strokeWidth": 2}, "encoding": {"y": {"field": "q1", "type": "quantitative", "title": "Proportion Correct Responses"}, "y2": {"field": "q3"}, "fill": {"field": "g", "type": "nominal", "scale": {"domain": ["A-A‘", "A-B‘"], "range": ["#c9c3d2", "#b8a79f"]}, "legend": {"title": null, "orient": "none", "legendX": 1077, "legendY": 563}}}},
        {"data": {"name": "A_box"}, "mark": {"type": "tick", "orient": "horizontal", "size": 20, "thickness": 3, "color": "black", "opacity": 1}, "encoding": {"y": {"field": "med", "type": "quantitative", "title": "Proportion Correct Responses"}}},
        {"data": {"name": "A_mean"}, "transform": [{"filter": "datum.g == 'A-A‘'"}], "mark": {"type": "rule", "strokeWidth": 1.5, "color": "#9a8fae"}, "encoding": {"y": {"field": "lo", "type": "quantitative", "title": "Proportion Correct Responses"}, "y2": {"field": "hi"}}},
        {"data": {"name": "A_mean"}, "transform": [{"filter": "datum.g == 'A-A‘'"}], "mark": {"type": "tick", "orient": "horizontal", "size": 9, "thickness": 1.5, "opacity": 1, "color": "#9a8fae"}, "encoding": {"y": {"field": "lo", "type": "quantitative", "title": "Proportion Correct Responses"}}},
        {"data": {"name": "A_mean"}, "transform": [{"filter": "datum.g == 'A-A‘'"}], "mark": {"type": "tick", "orient": "horizontal", "size": 9, "thickness": 1.5, "opacity": 1, "color": "#9a8fae"}, "encoding": {"y": {"field": "hi", "type": "quantitative", "title": "Proportion Correct Responses"}}},
        {"data": {"name": "A_mean"}, "transform": [{"filter": "datum.g == 'A-A‘'"}], "mark": {"type": "point", "shape": "diamond", "filled": true, "size": 50, "opacity": 1, "color": "#9a8fae"}, "encoding": {"y": {"field": "m", "type": "quantitative", "title": "Proportion Correct Responses"}}},
        {"data": {"name": "A_mean"}, "transform": [{"filter": "datum.g == 'A-B‘'"}], "mark": {"type": "rule", "strokeWidth": 1.5, "color": "#6b3b28"}, "encoding": {"y": {"field": "lo", "type": "quantitative", "title": "Proportion Correct Responses"}, "y2": {"field": "hi"}}},
        {"data": {"name": "A_mean"}, "transform": [{"filter": "datum.g == 'A-B‘'"}], "mark": {"type": "tick", "orient": "horizontal", "size": 9, "thickness": 1.5, "opacity": 1, "color": "#6b3b28"}, "encoding": {"y": {"field": "lo", "type": "quantitative", "title": "Proportion Correct Responses"}}},
        {"data": {"name": "A_mean"}, "transform": [{"filter": "datum.g == 'A-B‘'"}], "mark": {"type": "tick", "orient": "horizontal", "size": 9, "thickness": 1.5, "opacity": 1, "color": "#6b3b28"}, "encoding": {"y": {"field": "hi", "type": "quantitative", "title": "Proportion Correct Responses"}}},
        {"data": {"name": "A_mean"}, "transform": [{"filter": "datum.g == 'A-B‘'"}], "mark": {"type": "point", "shape": "diamond", "filled": true, "size": 50, "opacity": 1, "color": "#6b3b28"}, "encoding": {"y": {"field": "m", "type": "quantitative", "title": "Proportion Correct Responses"}}},
        {"data": {"name": "A_pts"}, "transform": [{"filter": "datum.g == 'A-A‘'"}], "mark": {"type": "circle", "size": 70, "opacity": 1, "color": "#9a8fae"}},
        {"data": {"name": "A_pts"}, "transform": [{"filter": "datum.g == 'A-B‘'"}], "mark": {"type": "circle", "size": 70, "opacity": 1, "color": "#6b3b28"}}
      ]
    },
    {
      "width": 411, "height": 536,
      "title": {"text": "B", "anchor": "start", "frame": "group", "fontSize": 48, "dx": -147, "dy": 39, "offset": 0},
      "encoding": {
        "x": {"field": "x", "type": "quantitative", "title": null, "scale": {"domain": [0.4, 2.6], "nice": false, "zero": false}, "axis": {"values": [1, 2], "labelExpr": "datum.value == 1 ? 'Correct' : 'Incorrect'"}},
        "y": {"field": "v", "type": "quantitative", "title": "Proportion Remember Responses", "scale": {"domain": [-0.2825, 1.0575], "nice": false, "zero": false}, "axis": {"values": [-0.25, 0, 0.25, 0.5, 0.75, 1], "labelExpr": "datum.value < 0 ? '-' + format(-datum.value, '.2f') : format(datum.value, '.2f')", "titleY": 281, "titlePadding": 15}}
      },
      "layer": [
        {"data": {"name": "B_dens"}, "transform": [{"filter": "datum.g == 'A-A‘'"}], "mark": {"type": "area", "orient": "horizontal", "interpolate": "monotone", "color": "#958aa5", "opacity": 0.5, "clip": true}, "encoding": {"x2": {"field": "x0"}, "detail": {"field": "c"}}},
        {"data": {"name": "B_dens"}, "transform": [{"filter": "datum.g == 'A-B‘'"}], "mark": {"type": "area", "orient": "horizontal", "interpolate": "monotone", "color": "#71503f", "opacity": 0.5, "clip": true}, "encoding": {"x2": {"field": "x0"}, "detail": {"field": "c"}}},
        {"data": {"name": "B_box"}, "mark": {"type": "rule", "color": "black", "strokeWidth": 1.5}, "encoding": {"y": {"field": "lo", "type": "quantitative", "title": "Proportion Remember Responses"}, "y2": {"field": "hi"}}},
        {"data": {"name": "B_box"}, "mark": {"type": "bar", "size": 9, "stroke": "black", "strokeWidth": 2}, "encoding": {"y": {"field": "q1", "type": "quantitative", "title": "Proportion Remember Responses"}, "y2": {"field": "q3"}, "fill": {"field": "g", "type": "nominal"}}},
        {"data": {"name": "B_box"}, "mark": {"type": "tick", "orient": "horizontal", "size": 9, "thickness": 3, "color": "black", "opacity": 1}, "encoding": {"y": {"field": "med", "type": "quantitative", "title": "Proportion Remember Responses"}}},
        {"data": {"name": "B_mean"}, "transform": [{"filter": "datum.g == 'A-A‘'"}], "mark": {"type": "rule", "strokeWidth": 1.5, "color": "#9a8fae"}, "encoding": {"y": {"field": "lo", "type": "quantitative", "title": "Proportion Remember Responses"}, "y2": {"field": "hi"}}},
        {"data": {"name": "B_mean"}, "transform": [{"filter": "datum.g == 'A-A‘'"}], "mark": {"type": "tick", "orient": "horizontal", "size": 9, "thickness": 1.5, "opacity": 1, "color": "#9a8fae"}, "encoding": {"y": {"field": "lo", "type": "quantitative", "title": "Proportion Remember Responses"}}},
        {"data": {"name": "B_mean"}, "transform": [{"filter": "datum.g == 'A-A‘'"}], "mark": {"type": "tick", "orient": "horizontal", "size": 9, "thickness": 1.5, "opacity": 1, "color": "#9a8fae"}, "encoding": {"y": {"field": "hi", "type": "quantitative", "title": "Proportion Remember Responses"}}},
        {"data": {"name": "B_mean"}, "transform": [{"filter": "datum.g == 'A-A‘'"}], "mark": {"type": "point", "shape": "diamond", "filled": true, "size": 30, "opacity": 1, "color": "#9a8fae"}, "encoding": {"y": {"field": "m", "type": "quantitative", "title": "Proportion Remember Responses"}}},
        {"data": {"name": "B_mean"}, "transform": [{"filter": "datum.g == 'A-B‘'"}], "mark": {"type": "rule", "strokeWidth": 1.5, "color": "#6b3b28"}, "encoding": {"y": {"field": "lo", "type": "quantitative", "title": "Proportion Remember Responses"}, "y2": {"field": "hi"}}},
        {"data": {"name": "B_mean"}, "transform": [{"filter": "datum.g == 'A-B‘'"}], "mark": {"type": "tick", "orient": "horizontal", "size": 9, "thickness": 1.5, "opacity": 1, "color": "#6b3b28"}, "encoding": {"y": {"field": "lo", "type": "quantitative", "title": "Proportion Remember Responses"}}},
        {"data": {"name": "B_mean"}, "transform": [{"filter": "datum.g == 'A-B‘'"}], "mark": {"type": "tick", "orient": "horizontal", "size": 9, "thickness": 1.5, "opacity": 1, "color": "#6b3b28"}, "encoding": {"y": {"field": "hi", "type": "quantitative", "title": "Proportion Remember Responses"}}},
        {"data": {"name": "B_mean"}, "transform": [{"filter": "datum.g == 'A-B‘'"}], "mark": {"type": "point", "shape": "diamond", "filled": true, "size": 30, "opacity": 1, "color": "#6b3b28"}, "encoding": {"y": {"field": "m", "type": "quantitative", "title": "Proportion Remember Responses"}}},
        {"data": {"name": "B_pts"}, "transform": [{"filter": "datum.g == 'A-A‘'"}], "mark": {"type": "circle", "size": 70, "opacity": 1, "color": "#9a8fae"}},
        {"data": {"name": "B_pts"}, "transform": [{"filter": "datum.g == 'A-B‘'"}], "mark": {"type": "circle", "size": 70, "opacity": 1, "color": "#6b3b28"}}
      ]
    },
    {
      "width": 430, "height": 537,
      "title": {"text": "Remember Responses", "anchor": "middle", "frame": "group", "fontSize": 35, "dx": 7, "offset": 9},
      "encoding": {
        "x": {"field": "x", "type": "quantitative", "title": null, "scale": {"domain": [0.4, 2.6], "nice": false, "zero": false}, "axis": {"values": [1, 2], "labelExpr": "datum.value == 1 ? 'Correct' : 'Incorrect'"}},
        "y": {"field": "v", "type": "quantitative", "title": "Proportion Select Responses", "scale": {"domain": [-0.3256, 1.325], "nice": false, "zero": false}, "axis": {"values": [0, 0.5, 1], "format": ".1f", "titleY": 283}}
      },
      "layer": [
        {"data": {"name": "CL_dens"}, "transform": [{"filter": "datum.g == 'A-A‘'"}], "mark": {"type": "area", "orient": "horizontal", "interpolate": "monotone", "color": "#958aa5", "opacity": 0.5, "clip": true}, "encoding": {"x2": {"field": "x0"}, "detail": {"field": "x0"}}},
        {"data": {"name": "CL_dens"}, "transform": [{"filter": "datum.g == 'A-B‘'"}], "mark": {"type": "area", "orient": "horizontal", "interpolate": "monotone", "color": "#71503f", "opacity": 0.5, "clip": true}, "encoding": {"x2": {"field": "x0"}, "detail": {"field": "x0"}}},
        {"data": {"name": "CL_box"}, "mark": {"type": "rule", "color": "black", "strokeWidth": 1.5}, "encoding": {"y": {"field": "lo", "type": "quantitative", "title": "Proportion Select Responses"}, "y2": {"field": "hi"}}},
        {"data": {"name": "CL_box"}, "mark": {"type": "bar", "size": 9, "stroke": "black", "strokeWidth": 2}, "encoding": {"y": {"field": "q1", "type": "quantitative", "title": "Proportion Select Responses"}, "y2": {"field": "q3"}, "fill": {"field": "g", "type": "nominal"}}},
        {"data": {"name": "CL_box"}, "mark": {"type": "tick", "orient": "horizontal", "size": 9, "thickness": 3, "color": "black", "opacity": 1}, "encoding": {"y": {"field": "med", "type": "quantitative", "title": "Proportion Select Responses"}}},
        {"data": {"name": "CL_mean"}, "transform": [{"filter": "datum.g == 'A-A‘'"}], "mark": {"type": "rule", "strokeWidth": 1.5, "color": "#9a8fae"}, "encoding": {"y": {"field": "lo", "type": "quantitative", "title": "Proportion Select Responses"}, "y2": {"field": "hi"}}},
        {"data": {"name": "CL_mean"}, "transform": [{"filter": "datum.g == 'A-A‘'"}], "mark": {"type": "tick", "orient": "horizontal", "size": 9, "thickness": 1.5, "opacity": 1, "color": "#9a8fae"}, "encoding": {"y": {"field": "lo", "type": "quantitative", "title": "Proportion Select Responses"}}},
        {"data": {"name": "CL_mean"}, "transform": [{"filter": "datum.g == 'A-A‘'"}], "mark": {"type": "tick", "orient": "horizontal", "size": 9, "thickness": 1.5, "opacity": 1, "color": "#9a8fae"}, "encoding": {"y": {"field": "hi", "type": "quantitative", "title": "Proportion Select Responses"}}},
        {"data": {"name": "CL_mean"}, "transform": [{"filter": "datum.g == 'A-A‘'"}], "mark": {"type": "point", "shape": "diamond", "filled": true, "size": 30, "opacity": 1, "color": "#9a8fae"}, "encoding": {"y": {"field": "m", "type": "quantitative", "title": "Proportion Select Responses"}}},
        {"data": {"name": "CL_mean"}, "transform": [{"filter": "datum.g == 'A-B‘'"}], "mark": {"type": "rule", "strokeWidth": 1.5, "color": "#6b3b28"}, "encoding": {"y": {"field": "lo", "type": "quantitative", "title": "Proportion Select Responses"}, "y2": {"field": "hi"}}},
        {"data": {"name": "CL_mean"}, "transform": [{"filter": "datum.g == 'A-B‘'"}], "mark": {"type": "tick", "orient": "horizontal", "size": 9, "thickness": 1.5, "opacity": 1, "color": "#6b3b28"}, "encoding": {"y": {"field": "lo", "type": "quantitative", "title": "Proportion Select Responses"}}},
        {"data": {"name": "CL_mean"}, "transform": [{"filter": "datum.g == 'A-B‘'"}], "mark": {"type": "tick", "orient": "horizontal", "size": 9, "thickness": 1.5, "opacity": 1, "color": "#6b3b28"}, "encoding": {"y": {"field": "hi", "type": "quantitative", "title": "Proportion Select Responses"}}},
        {"data": {"name": "CL_mean"}, "transform": [{"filter": "datum.g == 'A-B‘'"}], "mark": {"type": "point", "shape": "diamond", "filled": true, "size": 30, "opacity": 1, "color": "#6b3b28"}, "encoding": {"y": {"field": "m", "type": "quantitative", "title": "Proportion Select Responses"}}},
        {"data": {"name": "CL_pts"}, "transform": [{"filter": "datum.g == 'A-A‘'"}], "mark": {"type": "circle", "size": 70, "opacity": 1, "color": "#9a8fae"}},
        {"data": {"name": "CL_pts"}, "transform": [{"filter": "datum.g == 'A-B‘'"}], "mark": {"type": "circle", "size": 70, "opacity": 1, "color": "#6b3b28"}}
      ]
    },
    {
      "width": 430, "height": 537,
      "title": {"text": "Familiar Responses", "anchor": "middle", "frame": "group", "fontSize": 35, "dx": -40, "offset": 9},
      "encoding": {
        "x": {"field": "x", "type": "quantitative", "title": null, "scale": {"domain": [0.4, 2.6], "nice": false, "zero": false}, "axis": {"values": [1, 2], "labelExpr": "datum.value == 1 ? 'Correct' : 'Incorrect'"}},
        "y": {"field": "v", "type": "quantitative", "title": "Proportion Select Responses", "scale": {"domain": [-0.3256, 1.325], "nice": false, "zero": false}, "axis": {"values": [0, 0.5, 1], "format": ".1f", "titleY": 283}}
      },
      "layer": [
        {"data": {"name": "CR_dens"}, "transform": [{"filter": "datum.g == 'A-A‘'"}], "mark": {"type": "area", "orient": "horizontal", "interpolate": "monotone", "color": "#958aa5", "opacity": 0.5, "clip": true}, "encoding": {"x2": {"field": "x0"}, "detail": {"field": "x0"}}},
        {"data": {"name": "CR_dens"}, "transform": [{"filter": "datum.g == 'A-B‘'"}], "mark": {"type": "area", "orient": "horizontal", "interpolate": "monotone", "color": "#71503f", "opacity": 0.5, "clip": true}, "encoding": {"x2": {"field": "x0"}, "detail": {"field": "x0"}}},
        {"data": {"name": "CR_box"}, "mark": {"type": "rule", "color": "black", "strokeWidth": 1.5}, "encoding": {"y": {"field": "lo", "type": "quantitative", "title": "Proportion Select Responses"}, "y2": {"field": "hi"}}},
        {"data": {"name": "CR_box"}, "mark": {"type": "bar", "size": 9, "stroke": "black", "strokeWidth": 2}, "encoding": {"y": {"field": "q1", "type": "quantitative", "title": "Proportion Select Responses"}, "y2": {"field": "q3"}, "fill": {"field": "g", "type": "nominal"}}},
        {"data": {"name": "CR_box"}, "mark": {"type": "tick", "orient": "horizontal", "size": 9, "thickness": 3, "color": "black", "opacity": 1}, "encoding": {"y": {"field": "med", "type": "quantitative", "title": "Proportion Select Responses"}}},
        {"data": {"name": "CR_mean"}, "transform": [{"filter": "datum.g == 'A-A‘'"}], "mark": {"type": "rule", "strokeWidth": 1.5, "color": "#9a8fae"}, "encoding": {"y": {"field": "lo", "type": "quantitative", "title": "Proportion Select Responses"}, "y2": {"field": "hi"}}},
        {"data": {"name": "CR_mean"}, "transform": [{"filter": "datum.g == 'A-A‘'"}], "mark": {"type": "tick", "orient": "horizontal", "size": 9, "thickness": 1.5, "opacity": 1, "color": "#9a8fae"}, "encoding": {"y": {"field": "lo", "type": "quantitative", "title": "Proportion Select Responses"}}},
        {"data": {"name": "CR_mean"}, "transform": [{"filter": "datum.g == 'A-A‘'"}], "mark": {"type": "tick", "orient": "horizontal", "size": 9, "thickness": 1.5, "opacity": 1, "color": "#9a8fae"}, "encoding": {"y": {"field": "hi", "type": "quantitative", "title": "Proportion Select Responses"}}},
        {"data": {"name": "CR_mean"}, "transform": [{"filter": "datum.g == 'A-A‘'"}], "mark": {"type": "point", "shape": "diamond", "filled": true, "size": 30, "opacity": 1, "color": "#9a8fae"}, "encoding": {"y": {"field": "m", "type": "quantitative", "title": "Proportion Select Responses"}}},
        {"data": {"name": "CR_mean"}, "transform": [{"filter": "datum.g == 'A-B‘'"}], "mark": {"type": "rule", "strokeWidth": 1.5, "color": "#6b3b28"}, "encoding": {"y": {"field": "lo", "type": "quantitative", "title": "Proportion Select Responses"}, "y2": {"field": "hi"}}},
        {"data": {"name": "CR_mean"}, "transform": [{"filter": "datum.g == 'A-B‘'"}], "mark": {"type": "tick", "orient": "horizontal", "size": 9, "thickness": 1.5, "opacity": 1, "color": "#6b3b28"}, "encoding": {"y": {"field": "lo", "type": "quantitative", "title": "Proportion Select Responses"}}},
        {"data": {"name": "CR_mean"}, "transform": [{"filter": "datum.g == 'A-B‘'"}], "mark": {"type": "tick", "orient": "horizontal", "size": 9, "thickness": 1.5, "opacity": 1, "color": "#6b3b28"}, "encoding": {"y": {"field": "hi", "type": "quantitative", "title": "Proportion Select Responses"}}},
        {"data": {"name": "CR_mean"}, "transform": [{"filter": "datum.g == 'A-B‘'"}], "mark": {"type": "point", "shape": "diamond", "filled": true, "size": 30, "opacity": 1, "color": "#6b3b28"}, "encoding": {"y": {"field": "m", "type": "quantitative", "title": "Proportion Select Responses"}}},
        {"data": {"name": "CR_pts"}, "transform": [{"filter": "datum.g == 'A-A‘'"}], "mark": {"type": "circle", "size": 70, "opacity": 1, "color": "#9a8fae"}},
        {"data": {"name": "CR_pts"}, "transform": [{"filter": "datum.g == 'A-B‘'"}], "mark": {"type": "circle", "size": 70, "opacity": 1, "color": "#6b3b28"}}
      ]
    }
  ],
  "config": {
    "font": "Liberation Sans",
    "view": {"stroke": null},
    "axis": {"grid": false, "domainColor": "#333333", "domainWidth": 1.5, "tickColor": "#333333", "tickWidth": 1.5, "tickSize": 6, "titleColor": "black", "titleFontWeight": "normal"},
    "axisX": {"labelFontSize": 35, "labelPadding": 4, "labelColor": "black", "labelFlush": false},
    "axisY": {"labelFontSize": 20, "labelColor": "#333333", "labelPadding": 3, "titleFontSize": 36, "titlePadding": 22},
    "title": {"fontWeight": "normal", "color": "black"},
    "legend": {"symbolType": "square", "symbolSize": 3364, "symbolStrokeColor": "black", "symbolStrokeWidth": 2.5, "symbolOpacity": 1, "labelFontSize": 38, "labelOffset": 20, "rowPadding": 15, "labelColor": "black", "padding": 0}
  }
}
